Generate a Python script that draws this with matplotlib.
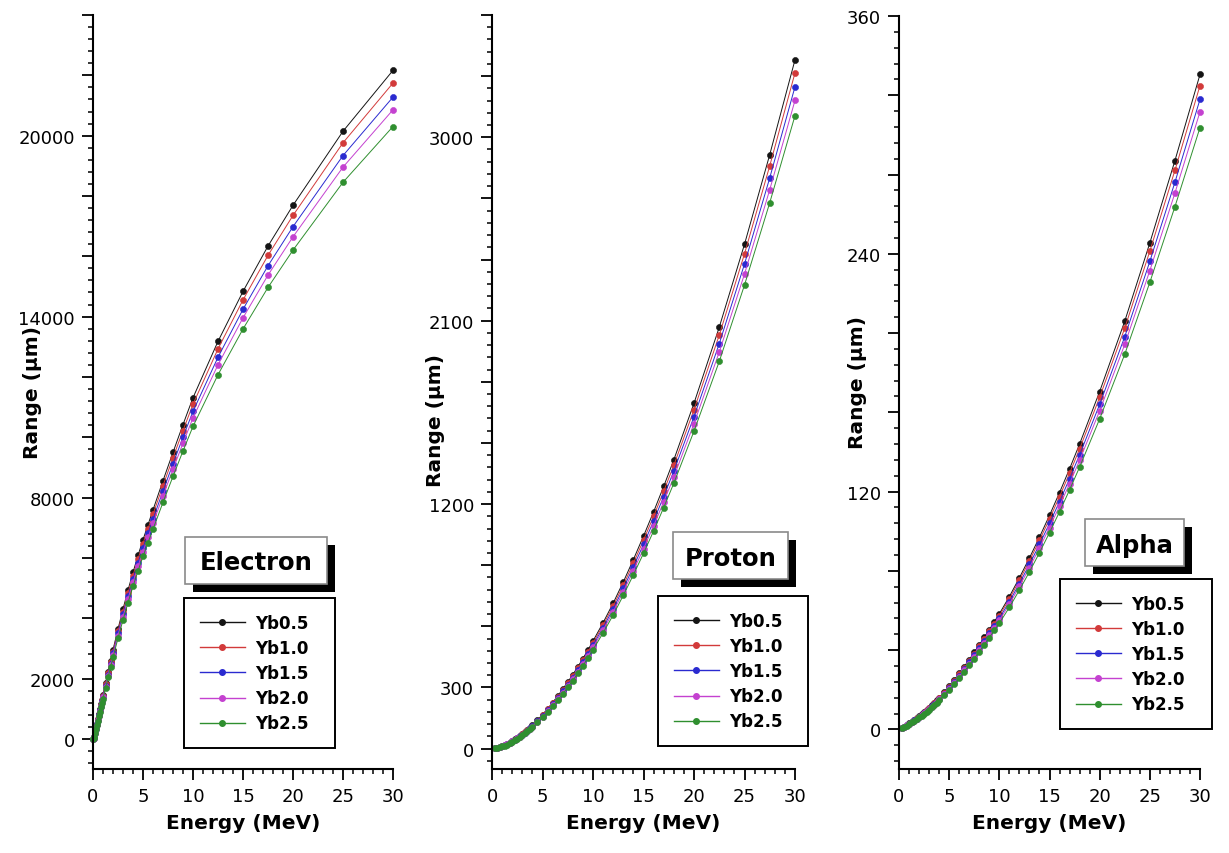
import matplotlib
matplotlib.use("Agg")
import matplotlib.pyplot as plt
from matplotlib.ticker import FixedLocator, MultipleLocator, FuncFormatter
from matplotlib.patches import Rectangle
from matplotlib.lines import Line2D

plt.rcParams['font.family'] = ['DejaVu Sans']

# ---------------- data ----------------
series_labels = ["Yb0.5", "Yb1.0", "Yb1.5", "Yb2.0", "Yb2.5"]
series_colors = ["#141414", "#d23a3a", "#2a2ad0", "#c441d0", "#2f8f2f"]

electron_energy = [0.01, 0.05, 0.1, 0.2, 0.3, 0.4, 0.5, 0.6, 0.7, 0.8, 0.9, 1, 1.25, 1.5, 1.75, 2,
                   2.5, 3, 3.5, 4, 4.5, 5, 5.5, 6, 7, 8, 9, 10, 12.5, 15, 17.5, 20, 25, 30]
electron_yb05 = [2, 25, 70, 200, 350, 500, 660, 820, 980, 1140, 1300, 1460, 1840, 2220, 2590, 2950,
                 3640, 4300, 4930, 5520, 6080, 6600, 7100, 7590, 8560, 9500, 10420, 11310, 13180,
                 14835, 16340, 17690, 20145, 22165]
electron_yb10 = [2, 24.5, 68.7, 196, 343, 491, 647, 804, 961, 1118, 1275, 1432, 1805, 2178, 2541, 2894,
                 3571, 4218, 4836, 5415, 5964, 6475, 6965, 7446, 8397, 9320, 10222, 11095, 12930,
                 14553, 16030, 17354, 19762, 21744]
electron_yb15 = [2, 24, 67.2, 192, 336, 480, 634, 787, 941, 1094, 1248, 1402, 1766, 2131, 2486, 2832,
                 3494, 4128, 4733, 5299, 5837, 6336, 6816, 7286, 8218, 9120, 10003, 10858, 12653,
                 14242, 15686, 16982, 19339, 21278]
electron_yb20 = [2, 23.5, 65.9, 188, 329, 471, 621, 772, 922, 1073, 1223, 1374, 1731, 2089, 2437, 2776,
                 3425, 4046, 4639, 5194, 5721, 6211, 6681, 7142, 8055, 8940, 9805, 10643, 12402,
                 13960, 15376, 16646, 18956, 20857]
electron_yb25 = [2, 22.9, 64.1, 183, 321, 458, 605, 751, 898, 1044, 1191, 1337, 1685, 2034, 2372, 2702,
                 3334, 3939, 4516, 5056, 5569, 6046, 6504, 6952, 7841, 8702, 9545, 10360, 12073,
                 13589, 14967, 16204, 18453, 20303]

ion_energy = [0.25, 0.5, 0.75, 1, 1.25, 1.5, 1.75, 2, 2.25, 2.5, 2.75, 3, 3.25, 3.5, 3.75, 4,
              4.5, 5, 5.5, 6, 6.5, 7, 7.5, 8, 8.5, 9, 9.5, 10, 11, 12, 13, 14, 15, 16, 17, 18,
              20, 22.5, 25, 27.5, 30]

proton_yb05 = [1.5, 4, 7.5, 12, 16.5, 22, 29.5, 38, 45, 54, 63, 72, 81, 92, 103, 114,
               140, 167, 196, 226, 258, 292, 327, 363, 402, 442, 484, 528, 618, 714, 818, 928,
               1043, 1162, 1287, 1417, 1695, 2068, 2475, 2915, 3380]
proton_yb10 = [1.5, 3.9, 7.4, 11.8, 16.2, 21.6, 28.9, 37.3, 44.1, 53, 61.8, 70.6, 79.5, 90.3, 101, 111.8,
               137.3, 163.8, 192.3, 221.7, 253.1, 286.5, 320.8, 356.1, 394.4, 433.6, 474.8, 518, 606,
               700, 802, 910, 1023, 1140, 1263, 1390, 1663, 2029, 2428, 2860, 3316]
proton_yb15 = [1.4, 3.8, 7.2, 11.5, 15.9, 21.1, 28.3, 36.5, 43.2, 51.9, 60.5, 69.2, 77.8, 88.4, 99, 109.6,
               134.5, 160.5, 188.4, 217.2, 247.9, 280.6, 314.2, 348.8, 386.3, 424.8, 465.1, 507.4, 594,
               686, 786, 892, 1002, 1117, 1237, 1362, 1629, 1987, 2378, 2801, 3248]
proton_yb20 = [1.4, 3.8, 7.1, 11.3, 15.5, 20.7, 27.8, 35.8, 42.3, 50.8, 59.3, 67.8, 76.2, 86.6, 96.9, 107.3,
               131.7, 157.1, 184.4, 212.7, 242.8, 274.8, 307.7, 341.6, 378.3, 415.9, 455.4, 496.8, 582,
               672, 770, 873, 981, 1093, 1211, 1333, 1595, 1946, 2329, 2743, 3181]
proton_yb25 = [1.4, 3.7, 6.9, 11, 15.2, 20.2, 27.1, 34.9, 41.4, 49.6, 57.9, 66.2, 74.4, 84.5, 94.7, 104.8,
               128.7, 153.5, 180.1, 207.7, 237.1, 268.3, 300.5, 333.6, 369.4, 406.2, 444.8, 485.2, 568,
               656, 752, 853, 958, 1068, 1183, 1302, 1558, 1900, 2275, 2679, 3106]

alpha_yb05 = [0.5, 1.2, 2.1, 3.0, 3.8, 4.7, 5.6, 6.6, 7.6, 8.6, 9.7, 10.9, 12.1, 13.3, 14.6, 16.0,
              18.8, 21.7, 24.9, 28.2, 31.7, 35.2, 38.9, 42.6, 46.4, 50.3, 54.3, 58.3, 67, 76.5, 86.5,
              97, 108, 119.5, 131.5, 144, 170.5, 206, 245.5, 287, 330.5]
alpha_yb10 = [0.49, 1.18, 2.06, 2.95, 3.74, 4.62, 5.5, 6.49, 7.47, 8.45, 9.54, 10.71, 11.89, 13.07, 14.35, 15.73,
              18.48, 21.33, 24.48, 27.72, 31.16, 34.6, 38.24, 41.88, 45.61, 49.44, 53.38, 57.31, 65.86,
              75.2, 85.03, 95.35, 106.16, 117.47, 129.26, 141.55, 167.6, 202.5, 241.3, 282.1, 324.9]
alpha_yb15 = [0.48, 1.15, 2.02, 2.89, 3.66, 4.52, 5.39, 6.35, 7.31, 8.27, 9.33, 10.49, 11.64, 12.79, 14.05, 15.39,
              18.09, 20.88, 23.95, 27.13, 30.5, 33.86, 37.42, 40.98, 44.64, 48.39, 52.24, 56.08, 64.45,
              73.59, 83.21, 93.31, 103.9, 114.96, 126.5, 138.53, 164.02, 198.17, 236.17, 276.09, 317.94]
alpha_yb20 = [0.47, 1.13, 1.98, 2.83, 3.58, 4.43, 5.28, 6.22, 7.17, 8.11, 9.15, 10.28, 11.41, 12.54, 13.77, 15.09,
              17.73, 20.46, 23.48, 26.59, 29.89, 33.19, 36.68, 40.17, 43.76, 47.43, 51.2, 54.98, 63.18,
              72.14, 81.57, 91.47, 101.84, 112.69, 124.0, 135.79, 160.78, 194.26, 231.51, 270.64, 311.66]
alpha_yb25 = [0.46, 1.1, 1.93, 2.76, 3.49, 4.32, 5.15, 6.07, 6.98, 7.9, 8.91, 10.02, 11.12, 12.22, 13.42, 14.7,
              17.28, 19.94, 22.88, 25.92, 29.13, 32.35, 35.75, 39.15, 42.64, 46.23, 49.9, 53.58, 61.57,
              70.3, 79.49, 89.14, 99.25, 109.82, 120.85, 132.34, 156.69, 189.31, 225.61, 263.75, 303.73]

x_ticks = [0, 5, 10, 15, 20, 25, 30]
electron_ylabels = [0, 2000, 8000, 14000, 20000]
proton_ylabels = [0, 300, 1200, 2100, 3000]
alpha_ylabels = [0, 120, 240, 360]

# ---------------- figure ----------------
W, H = 1229, 854
fig = plt.figure(figsize=(W / 100, H / 100), dpi=100)


def fx(px):
    return px / W


def fy(py):
    return 1 - py / H


panels = [
    dict(name="Electron", x=electron_energy,
         ys=[electron_yb05, electron_yb10, electron_yb15, electron_yb20, electron_yb25],
         rect=(93, 16, 393, 770), ylim=(-1000, 24000), major=2000, minor=400,
         labels=electron_ylabels, ylab_xy=(-0.17, 0.5),
         tbox=(185, 538, 327, 585), legbox=(184, 599, 335, 756)),
    dict(name="Proton", x=ion_energy,
         ys=[proton_yb05, proton_yb10, proton_yb15, proton_yb20, proton_yb25],
         rect=(492, 16, 795, 770), ylim=(-100, 3600), major=300, minor=60,
         labels=proton_ylabels, ylab_xy=(-0.155, 0.464),
         tbox=(673, 533, 788, 580), legbox=(658, 597, 808, 753)),
    dict(name="Alpha", x=ion_energy,
         ys=[alpha_yb05, alpha_yb10, alpha_yb15, alpha_yb20, alpha_yb25],
         rect=(899, 17, 1200, 770), ylim=(-20, 360), major=40, minor=8,
         labels=alpha_ylabels, ylab_xy=(-0.105, 0.514),
         tbox=(1085, 520, 1184, 567), legbox=(1060, 580, 1212, 736)),
]

for p in panels:
    l, t, r, b = p["rect"]
    ax = fig.add_axes([fx(l), fy(b), (r - l) / W, (b - t) / H])
    handles = []
    for lab, col, yv in zip(series_labels, series_colors, p["ys"]):
        ax.plot(p["x"], yv, color=col, lw=0.7, marker='o', markersize=4.4,
                markerfacecolor=col, markeredgecolor=col, markeredgewidth=0.4,
                label=lab, clip_on=False)
        handles.append(Line2D([], [], color=col, lw=1.0, marker='o', markersize=4.0,
                              markerfacecolor=col, markeredgecolor=col))
    ax.set_xlim(0, 30)
    ax.set_ylim(*p["ylim"])
    ax.xaxis.set_major_locator(FixedLocator(x_ticks))
    ax.xaxis.set_minor_locator(MultipleLocator(1))
    ax.yaxis.set_major_locator(MultipleLocator(p["major"]))
    ax.yaxis.set_minor_locator(MultipleLocator(p["minor"]))
    labs = p["labels"]
    ax.yaxis.set_major_formatter(FuncFormatter(
        lambda v, pos, labs=labs: str(int(round(v))) if any(abs(v - q) < 1e-6 for q in labs) else ""))
    for s in ("top", "right"):
        ax.spines[s].set_visible(False)
    for s in ("left", "bottom"):
        ax.spines[s].set_linewidth(1.5)
    ax.tick_params(axis='both', which='major', direction='out', length=8, width=1.3,
                   labelsize=13, pad=5, colors='black')
    ax.tick_params(axis='both', which='minor', direction='out', length=3.8, width=1.1)
    ax.set_xlabel("Energy (MeV)", fontsize=14.5, fontweight='bold', labelpad=6)
    ax.set_ylabel("Range (\u03bcm)", fontsize=14.5, fontweight='bold')
    ax.yaxis.set_label_coords(*p["ylab_xy"])

    # title box with shadow
    x0, y0, x1, y1 = p["tbox"]
    fig.add_artist(Rectangle((fx(x0 + 8), fy(y1 + 8)), (x1 - x0) / W, (y1 - y0) / H,
                             transform=fig.transFigure, facecolor='black', edgecolor='none', zorder=5))
    fig.add_artist(Rectangle((fx(x0), fy(y1)), (x1 - x0) / W, (y1 - y0) / H,
                             transform=fig.transFigure, facecolor='white', edgecolor='#8a8a8a',
                             lw=1.2, zorder=6))
    fig.text(fx((x0 + x1) / 2), fy((y0 + y1) / 2 + 2), p["name"], ha='center', va='center',
             fontsize=17.5, fontweight='bold', zorder=7)

    # legend
    lx0, ly0, lx1, ly1 = p["legbox"]
    leg = ax.legend(handles, series_labels, loc='upper left',
                    bbox_to_anchor=(fx(lx0), fy(ly1), (lx1 - lx0) / W, (ly1 - ly0) / H),
                    bbox_transform=fig.transFigure, mode='expand', borderaxespad=0,
                    frameon=True, fancybox=False, framealpha=1, edgecolor='black',
                    prop={'weight': 'bold', 'size': 12}, handlelength=2.7,
                    handletextpad=0.6, labelspacing=0.43, borderpad=0.95)
    leg.get_frame().set_linewidth(1.4)

fig.savefig("out.png", dpi=100)
